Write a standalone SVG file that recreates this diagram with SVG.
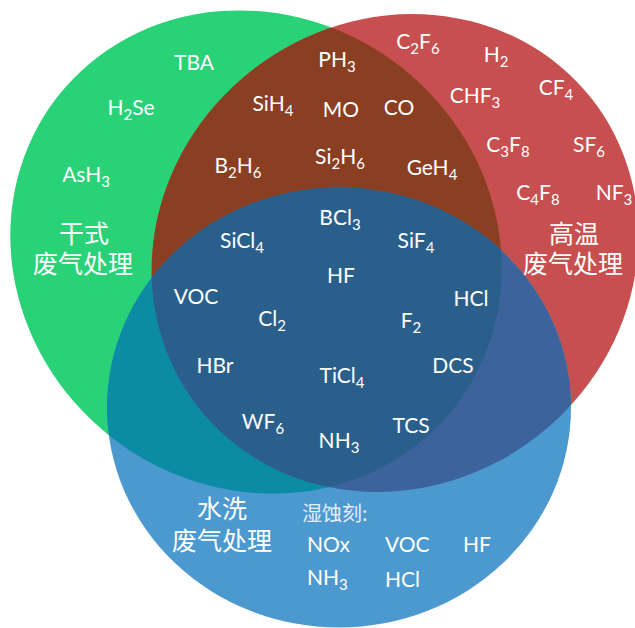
<svg xmlns="http://www.w3.org/2000/svg" xmlns:xlink="http://www.w3.org/1999/xlink" width="635" height="628" viewBox="0 0 635 628">
<style>
.t{font-family:Lato,"Noto Sans","Liberation Sans",sans-serif;font-size:21px;fill:#ffffff;text-anchor:middle}
.s{font-size:15px}
.cn{font-family:"Noto Sans CJK SC","Noto Sans",sans-serif;font-size:25px;fill:#ffffff;text-anchor:middle}
.cn2{font-family:"Noto Sans CJK SC","Noto Sans",sans-serif;font-size:20px;fill:#e6eef8}
.l{text-anchor:start}
</style>
<defs>
<ellipse id="gE" cx="256" cy="252" rx="252" ry="235" transform="rotate(38 256 252)"/>
<ellipse id="rE" cx="395" cy="253" rx="250" ry="232" transform="rotate(-38 395 253)"/>
<ellipse id="bE" cx="339" cy="407.5" rx="232" ry="220"/>
<clipPath id="cG"><use xlink:href="#gE"/></clipPath>
<clipPath id="cR"><use xlink:href="#rE"/></clipPath>
</defs>
<rect width="635" height="628" fill="#ffffff"/>
<g id="set-dry"><use xlink:href="#gE" fill="#29D276"/></g>
<g id="set-hot"><use xlink:href="#rE" fill="#C84F50"/></g>
<g id="set-wet"><use xlink:href="#bE" fill="#4C99D0"/></g>
<g id="overlaps">
<use id="dry-hot" xlink:href="#rE" fill="#8A3E22" clip-path="url(#cG)"/>
<use id="dry-wet" xlink:href="#bE" fill="#0C8CA4" clip-path="url(#cG)"/>
<use id="hot-wet" xlink:href="#bE" fill="#3C639B" clip-path="url(#cR)"/>
<g clip-path="url(#cG)"><use id="all" xlink:href="#bE" fill="#2A5F8C" clip-path="url(#cR)"/></g>
</g>
<g id="connectors"></g>
<g id="labels-dry">
<text class="t" x="194" y="70">TBA</text>
<text class="t" x="131" y="115">H<tspan class="s" dy="5">2</tspan><tspan dy="-5">Se</tspan></text>
<text class="t" x="86" y="182">AsH<tspan class="s" dy="5">3</tspan></text>
<text class="cn" x="84" y="243">干式<tspan x="83" dy="30">废气处理</tspan></text>
</g>
<g id="labels-dry-hot">
<text class="t" x="337" y="67">PH<tspan class="s" dy="5">3</tspan></text>
<text class="t" x="273" y="111">SiH<tspan class="s" dy="5">4</tspan></text>
<text class="t" x="341" y="117">MO</text>
<text class="t" x="399" y="115">CO</text>
<text class="t" x="238" y="173">B<tspan class="s" dy="5">2</tspan><tspan dy="-5">H</tspan><tspan class="s" dy="5">6</tspan></text>
<text class="t" x="340" y="164">Si<tspan class="s" dy="5">2</tspan><tspan dy="-5">H</tspan><tspan class="s" dy="5">6</tspan></text>
<text class="t" x="432" y="175">GeH<tspan class="s" dy="5">4</tspan></text>
</g>
<g id="labels-hot">
<text class="t" x="418" y="49">C<tspan class="s" dy="5">2</tspan><tspan dy="-5">F</tspan><tspan class="s" dy="5">6</tspan></text>
<text class="t" x="496" y="62">H<tspan class="s" dy="5">2</tspan></text>
<text class="t" x="475" y="103">CHF<tspan class="s" dy="5">3</tspan></text>
<text class="t" x="556" y="95">CF<tspan class="s" dy="5">4</tspan></text>
<text class="t" x="508" y="152">C<tspan class="s" dy="5">3</tspan><tspan dy="-5">F</tspan><tspan class="s" dy="5">8</tspan></text>
<text class="t" x="589" y="152">SF<tspan class="s" dy="5">6</tspan></text>
<text class="t" x="538" y="200">C<tspan class="s" dy="5">4</tspan><tspan dy="-5">F</tspan><tspan class="s" dy="5">8</tspan></text>
<text class="t" x="614" y="200">NF<tspan class="s" dy="5">3</tspan></text>
<text class="cn" x="574" y="243">高温<tspan x="573" dy="30">废气处理</tspan></text>
</g>
<g id="labels-all">
<text class="t" x="340" y="225">BCl<tspan class="s" dy="5">3</tspan></text>
<text class="t" x="242" y="248">SiCl<tspan class="s" dy="5">4</tspan></text>
<text class="t" x="416" y="248">SiF<tspan class="s" dy="5">4</tspan></text>
<text class="t" x="341" y="283">HF</text>
<text class="t" x="196" y="304">VOC</text>
<text class="t" x="471" y="306">HCl</text>
<text class="t" x="272" y="326">Cl<tspan class="s" dy="5">2</tspan></text>
<text class="t" x="411" y="328">F<tspan class="s" dy="5">2</tspan></text>
<text class="t" x="215" y="373">HBr</text>
<text class="t" x="453" y="373">DCS</text>
<text class="t" x="342" y="383">TiCl<tspan class="s" dy="5">4</tspan></text>
<text class="t" x="263" y="429">WF<tspan class="s" dy="5">6</tspan></text>
<text class="t" x="411" y="433">TCS</text>
<text class="t" x="339" y="448">NH<tspan class="s" dy="5">3</tspan></text>
</g>
<g id="labels-wet">
<text class="cn" x="222" y="518">水洗<tspan x="222" dy="32">废气处理</tspan></text>
<text class="cn2" x="302" y="521">湿蚀刻:</text>
<text class="t l" x="307" y="552">NOx</text>
<text class="t l" x="385" y="552">VOC</text>
<text class="t l" x="463" y="552">HF</text>
<text class="t l" x="307" y="585">NH<tspan class="s" dy="5">3</tspan></text>
<text class="t l" x="385" y="587">HCl</text>
</g>
</svg>
